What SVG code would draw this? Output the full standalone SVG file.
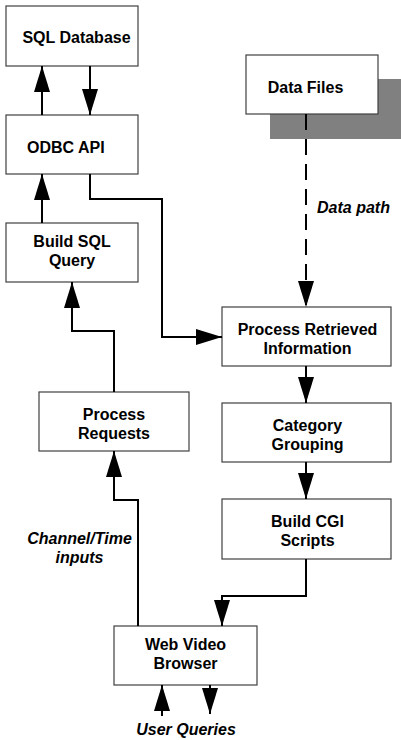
<svg xmlns="http://www.w3.org/2000/svg" width="401" height="740" viewBox="0 0 401 740">
<defs>
<marker id="ah" markerUnits="userSpaceOnUse" markerWidth="26" markerHeight="16" refX="26" refY="8" orient="auto" viewBox="0 0 26 16">
<path d="M0,0 L26,8 L0,16 z" fill="#000"/>
</marker>
<style>
.box{fill:#fff;stroke:#404040;stroke-width:1.2}
.t{font-family:"Liberation Sans",Arial,sans-serif;font-weight:bold;font-size:16px;fill:#000;text-anchor:middle}
.i{font-style:italic}
.c{fill:none;stroke:#000;stroke-width:2;marker-end:url(#ah)}
</style>
</defs>
<rect x="270" y="79" width="132" height="60" fill="#808080"/>
<g id="sql"><rect class="box" x="6" y="6" width="132" height="60"/><text class="t" x="76.5" y="43">SQL Database</text></g>
<g id="odbc"><rect class="box" x="6" y="115" width="132" height="59"/><text class="t" x="27" y="153" style="text-anchor:start">ODBC API</text></g>
<g id="buildsql"><rect class="box" x="6" y="223" width="132" height="59"/><text class="t" x="72" y="247">Build SQL</text><text class="t" x="72" y="266">Query</text></g>
<g id="procreq"><rect class="box" x="39" y="392" width="150" height="59"/><text class="t" x="114" y="420">Process</text><text class="t" x="114" y="439">Requests</text></g>
<g id="wvb"><rect class="box" x="114" y="626" width="143" height="59"/><text class="t" x="185.5" y="650">Web Video</text><text class="t" x="185.5" y="669">Browser</text></g>
<g id="datafiles"><rect class="box" x="246" y="55" width="132" height="59"/><text class="t" x="305.5" y="93">Data Files</text></g>
<g id="procret"><rect class="box" x="222" y="307" width="169" height="59"/><text class="t" x="307.5" y="335">Process Retrieved</text><text class="t" x="307.5" y="354">Information</text></g>
<g id="category"><rect class="box" x="222" y="403" width="169" height="59"/><text class="t" x="307.5" y="431">Category</text><text class="t" x="307.5" y="450">Grouping</text></g>
<g id="cgi"><rect class="box" x="222" y="499" width="169" height="60"/><text class="t" x="307.5" y="527">Build CGI</text><text class="t" x="307.5" y="546">Scripts</text></g>
<g id="connectors">
<path class="c" d="M42,115 V66"/>
<path class="c" d="M90,66 V115"/>
<path class="c" d="M42,223 V174"/>
<path class="c" d="M90,174 V199 H162 V337 H222"/>
<path class="c" d="M114,392 V331 H72 V282"/>
<path class="c" d="M138,626 V500 H114 V451"/>
<path class="c" d="M306,114 V307" stroke-dasharray="16 9"/>
<path class="c" d="M306,366 V403"/>
<path class="c" d="M306,462 V499"/>
<path class="c" d="M306,559 V596 H222 V626"/>
<path class="c" d="M162,716 V685"/>
<path class="c" d="M210,685 V714"/>
</g>
<g id="labels">
<text class="t i" x="317" y="213" style="text-anchor:start">Data path</text>
<text class="t i" x="79.5" y="544">Channel/Time</text>
<text class="t i" x="79.5" y="563">inputs</text>
<text class="t i" x="186" y="735">User Queries</text>
</g>
</svg>
